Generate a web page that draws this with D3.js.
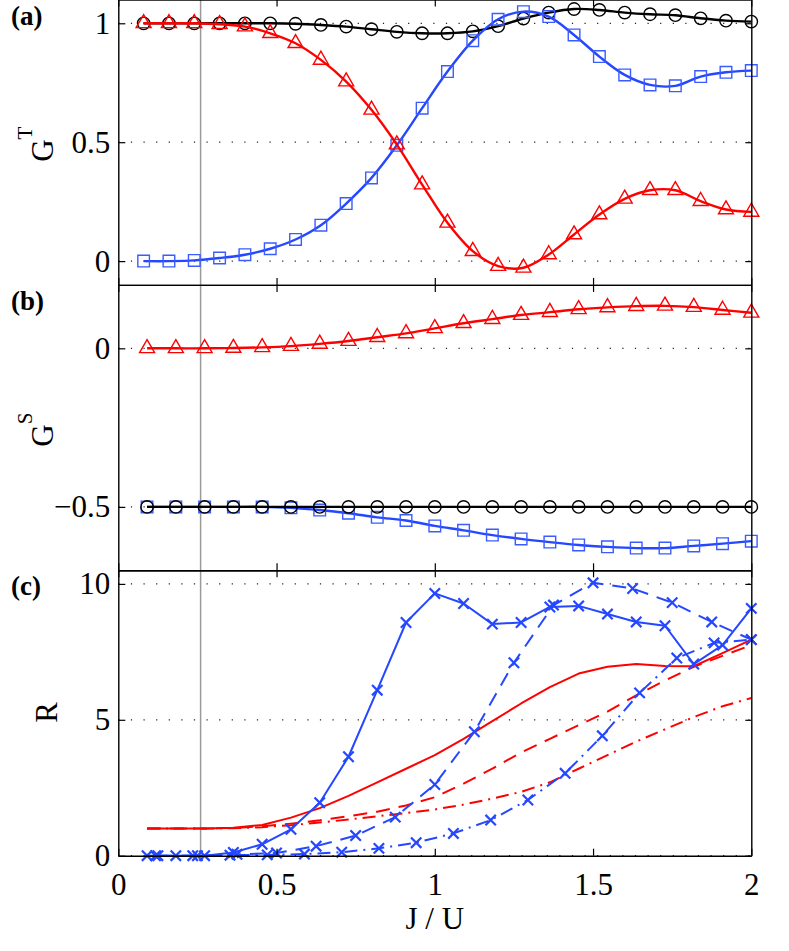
<!DOCTYPE html>
<html>
<head>
<meta charset="utf-8">
<script src="https://cdn.jsdelivr.net/npm/d3@7"></script>
<style>
  body { margin: 0; background: #fff; }
  svg text { font-family: "Liberation Serif", "Times New Roman", serif; }
</style>
</head>
<body>
<div id="chart"></div>
<script>
// x grids (J/U)
const xA  = [0.08,0.16,0.24,0.32,0.40,0.48,0.56,0.64,0.72,0.80,0.88,0.96,1.04,1.12,1.20,1.28,1.36,1.44,1.52,1.60,1.68,1.76,1.84,1.92,2.00];
const x11 = [0.0909,0.1818,0.2727,0.3636,0.4545,0.5455,0.6364,0.7273,0.8182,0.9091,1.0,1.0909,1.1818,1.2727,1.3636,1.4545,1.5455,1.6364,1.7273,1.8182,1.9091,2.0];
const x8  = [0.125,0.25,0.375,0.5,0.625,0.75,0.875,1.0,1.125,1.25,1.375,1.5,1.625,1.75,1.875,2.0];
const x17 = [0.1176,0.2353,0.3529,0.4706,0.5882,0.7059,0.8235,0.9412,1.0588,1.1765,1.2941,1.4118,1.5294,1.6471,1.7647,1.8824,2.0];

// panel (a) G^T
const gtBlack = [1.0,1.0,1.0,1.0,1.0,1.0,0.998,0.993,0.986,0.975,0.964,0.958,0.958,0.966,0.988,1.02,1.045,1.06,1.056,1.045,1.038,1.034,1.021,1.011,1.007];
const gtRed   = [1.0,1.0,1.0,0.996,0.986,0.958,0.916,0.846,0.755,0.636,0.49,0.322,0.161,0.042,-0.021,-0.028,0.028,0.112,0.196,0.262,0.298,0.298,0.252,0.217,0.207];
const gtBlue  = [0.0,0.0,0.003,0.013,0.027,0.052,0.091,0.151,0.242,0.350,0.487,0.643,0.797,0.927,1.017,1.049,1.028,0.951,0.860,0.783,0.741,0.737,0.776,0.794,0.801];

// panel (b) G^S
const gsRed   = [0,0,0,0.001,0.003,0.007,0.014,0.023,0.035,0.047,0.063,0.079,0.092,0.105,0.114,0.123,0.129,0.133,0.134,0.13,0.121,0.112];
const gsBlack = [-0.5,-0.5,-0.5,-0.5,-0.5,-0.5,-0.5,-0.5,-0.5,-0.5,-0.5,-0.5,-0.5,-0.5,-0.5,-0.5,-0.5,-0.5,-0.5,-0.5,-0.5,-0.5];
const gsBlue  = [-0.5,-0.5,-0.5,-0.5,-0.5,-0.503,-0.51,-0.52,-0.533,-0.543,-0.56,-0.574,-0.589,-0.601,-0.611,-0.62,-0.626,-0.63,-0.63,-0.623,-0.616,-0.608];

// panel (c) R
const rRedSolid   = [1.0,1.0,1.0,1.03,1.13,1.4,1.75,2.2,2.7,3.2,3.7,4.3,4.95,5.6,6.2,6.7,6.95,7.05,6.98,6.97,7.45,7.95];
const rRedDash    = [1.0,1.0,1.0,1.02,1.08,1.18,1.3,1.45,1.62,1.85,2.15,2.65,3.2,3.8,4.3,4.8,5.3,5.9,6.45,6.95,7.35,7.75];
const rRedDashDot = [1.0,1.0,1.0,1.01,1.05,1.12,1.22,1.33,1.45,1.57,1.7,1.88,2.1,2.35,2.7,3.2,3.7,4.2,4.65,5.1,5.5,5.8];
const rBlueSolid  = [0,0,0,0.12,0.42,0.97,1.95,3.64,6.09,8.58,9.65,9.28,8.52,8.58,9.15,9.19,8.89,8.6,8.46,7.05,7.75,9.1];
const rBlueDash   = [0,0,0.05,0.1,0.35,0.74,1.42,2.62,4.56,7.1,9.22,10.04,9.83,9.31,8.6,7.95];
const rBlueDashDot= [0,0,0.02,0.03,0.06,0.13,0.27,0.48,0.82,1.31,2.05,3.03,4.41,5.99,7.27,7.83,7.95];

const yTicksA = [0, 0.5, 1], yTicksB = [-0.5, 0], yTicksC = [0, 5, 10];
const xTicks = [0, 0.5, 1, 1.5, 2];
const markerLine = 0.26;

;(function(){
  const W = 789, H = 951,
        left = 118.3, right = 751.3,
        panelH = 285.4, top0 = -0.5;
  const red = '#ff0000', blue = '#2447ff', blueMk = '#3a5cff', black = '#000';

  const svg = d3.select('#chart').append('svg')
      .attr('width', W).attr('height', H);

  const x = d3.scaleLinear().domain([0, 2]).range([left, right]);

  const panels = [
    { dom: [-0.1, 1.1], ticks: yTicksA, label: '(a)', ylab: 'G', sup: 'T' },
    { dom: [-0.7, 0.2], ticks: yTicksB, label: '(b)', ylab: 'G', sup: 'S' },
    { dom: [0, 10.5],   ticks: yTicksC, label: '(c)', ylab: 'R', sup: null }
  ];
  panels.forEach((p, i) => {
    p.y0 = top0 + i * panelH;
    p.y1 = p.y0 + panelH;
    p.y = d3.scaleLinear().domain(p.dom).range([p.y1, p.y0]);
  });

  // gray vertical reference line
  svg.append('line')
    .attr('x1', x(markerLine)).attr('x2', x(markerLine))
    .attr('y1', panels[0].y0).attr('y2', panels[2].y1)
    .attr('stroke', '#9a9a9a').attr('stroke-width', 1.5);

  // dotted grid
  panels.forEach(p => {
    svg.append('g').selectAll('line').data(p.ticks).enter().append('line')
      .attr('x1', left).attr('x2', right)
      .attr('y1', d => p.y(d)).attr('y2', d => p.y(d))
      .attr('stroke', '#222').attr('stroke-width', 1.2)
      .attr('stroke-dasharray', '1.2,11.4');
  });

  // marker shapes
  const tri = 'M0,-8.7L7.5,4.3L-7.5,4.3Z';
  const sq  = 'M-5.8,-5.8H5.8V5.8H-5.8Z';
  const xm  = 'M-5.2,-5.2L5.2,5.2M-5.2,5.2L5.2,-5.2';

  function series(p, xs, ys, o) {
    const pts = xs.map((d, i) => [x(d), p.y(ys[i])]);
    const line = d3.line().curve(o.curve || d3.curveLinear);
    svg.append('path')
      .attr('d', line(pts))
      .attr('fill', 'none')
      .attr('stroke', o.color)
      .attr('stroke-width', o.width)
      .attr('stroke-dasharray', o.dash || null)
      .attr('stroke-linejoin', 'round');
    if (!o.marker) return;
    const g = svg.append('g');
    if (o.marker === 'circle') {
      g.selectAll('circle').data(pts).enter().append('circle')
        .attr('cx', d => d[0]).attr('cy', d => d[1]).attr('r', 6.2)
        .attr('fill', 'none').attr('stroke', o.mcolor).attr('stroke-width', 1.4);
    } else {
      g.selectAll('path').data(pts).enter().append('path')
        .attr('transform', d => `translate(${d[0]},${d[1]})`)
        .attr('d', o.marker)
        .attr('fill', 'none').attr('stroke', o.mcolor)
        .attr('stroke-width', o.mwidth || 1.4);
    }
  }

  const smooth = d3.curveCatmullRom.alpha(0.5);
  const pa = panels[0], pb = panels[1], pc = panels[2];

  series(pa, xA, gtBlack, { color: black, width: 2.4, curve: smooth, marker: 'circle', mcolor: black });
  series(pa, xA, gtBlue,  { color: blue,  width: 2.4, curve: smooth, marker: sq,  mcolor: blueMk });
  series(pa, xA, gtRed,   { color: red,   width: 2.4, curve: smooth, marker: tri, mcolor: red });

  series(pb, x11, gsRed,   { color: red,   width: 2.4, curve: smooth, marker: tri, mcolor: red });
  series(pb, x11, gsBlue,  { color: blue,  width: 2.4, curve: smooth, marker: sq,  mcolor: blueMk });
  series(pb, x11, gsBlack, { color: black, width: 2.4, curve: smooth, marker: 'circle', mcolor: black });

  series(pc, x11, rRedDashDot, { color: red, width: 2, dash: '13,6,2,6' });
  series(pc, x11, rRedDash,    { color: red, width: 2, dash: '14,9' });
  series(pc, x11, rRedSolid,   { color: red, width: 2 });
  series(pc, x17, rBlueDashDot,{ color: blue, width: 2, dash: '13,6,2,6', marker: xm, mcolor: blue, mwidth: 2.2 });
  series(pc, x8,  rBlueDash,   { color: blue, width: 2, dash: '14,9', marker: xm, mcolor: blue, mwidth: 2.2 });
  series(pc, x11, rBlueSolid,  { color: blue, width: 2, marker: xm, mcolor: blue, mwidth: 2.2 });

  // axes: inward ticks on all sides
  const fmt = d3.format('~g');
  panels.forEach((p, i) => {
    const last = i === panels.length - 1;
    const gl = svg.append('g').attr('transform', `translate(${left},0)`)
      .call(d3.axisLeft(p.y).tickValues(p.ticks).tickSizeInner(-7).tickSizeOuter(0)
        .tickPadding(8).tickFormat(fmt));
    svg.append('g').attr('transform', `translate(${right},0)`)
      .call(d3.axisRight(p.y).tickValues(p.ticks).tickSizeInner(-6).tickSizeOuter(0).tickFormat(''));
    svg.append('g').attr('transform', `translate(0,${p.y0})`)
      .call(d3.axisTop(x).tickValues(xTicks).tickSizeInner(-7).tickSizeOuter(0).tickFormat(''));
    const gb = svg.append('g').attr('transform', `translate(0,${p.y1})`)
      .call(d3.axisBottom(x).tickValues(xTicks).tickSizeInner(-7).tickSizeOuter(0)
        .tickPadding(17).tickFormat(last ? fmt : ''));
    [gl, gb].forEach(g => g.selectAll('text').attr('font-size', 31).attr('fill', '#000')
      .attr('font-family', '"Liberation Serif", serif'));
    svg.selectAll('.domain').attr('stroke', '#000').attr('stroke-width', 1.4);
    svg.selectAll('.tick line').attr('stroke', '#000').attr('stroke-width', 1.2);

    // panel letter
    svg.append('text')
      .attr('x', 11).attr('y', p.y0 + 25)
      .attr('font-size', 27).attr('font-weight', 'bold')
      .text(p.label);

    // y label
    const cy = (p.y0 + p.y1) / 2;
    const yl = svg.append('text')
      .attr('transform', i === 2 ? `translate(57,${cy - 0.5})rotate(-90)` : `translate(53,${cy + 2})rotate(-90)`)
      .attr('text-anchor', 'middle')
      .attr('font-size', 31);
    yl.append('tspan').text(p.ylab);
    if (p.sup) yl.append('tspan').attr('font-size', 21).attr('dy', -21).text(p.sup);
  });

  // x label
  svg.append('text')
    .attr('x', x(1)).attr('y', 929)
    .attr('text-anchor', 'middle')
    .attr('font-size', 31)
    .text('J / U');
})();
</script>
</body>
</html>
